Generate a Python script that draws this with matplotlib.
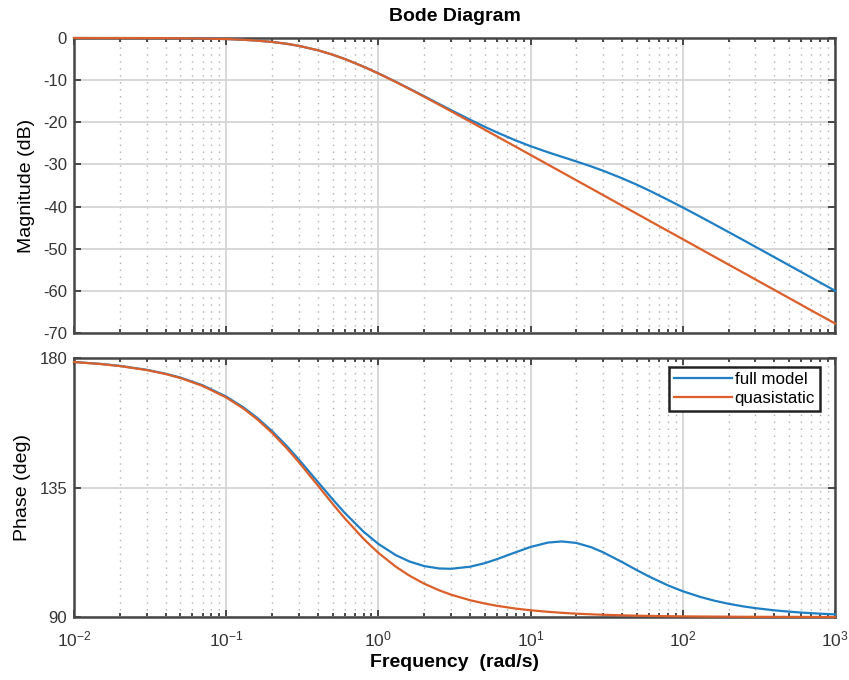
import matplotlib
matplotlib.use('Agg')
import matplotlib.pyplot as plt
from matplotlib.ticker import LogLocator, NullFormatter, FixedLocator
import numpy as np

# 频率点 (rad/s)
freq = [0.01, 0.015, 0.02, 0.03, 0.04, 0.05, 0.07, 0.1, 0.13, 0.16, 0.2, 0.25,
        0.3, 0.4, 0.5, 0.6, 0.8, 1, 1.3, 1.6, 2, 2.5, 3, 4, 5, 6, 8,
        10, 13, 16, 20, 25, 30, 40, 50, 60, 80, 100, 130, 160, 200, 250,
        300, 400, 500, 600, 800, 1000]

# 幅值 (dB)
mag_full = [0.00, -0.01, -0.01, -0.02, -0.04, -0.06, -0.12, -0.25, -0.42, -0.62, -0.93, -1.37,
            -1.86, -2.90, -3.95, -4.96, -6.80, -8.39, -10.38, -12.02, -13.82, -15.64, -17.11, -19.38, -21.07, -22.39, -24.32,
            -25.67, -27.11, -28.17, -29.30, -30.47, -31.50, -33.30, -34.83, -36.17, -38.41, -40.21, -42.39, -44.15, -46.05, -47.96,
            -49.54, -52.02, -53.95, -55.53, -58.03, -59.96]
mag_quasi = [0.00, -0.01, -0.01, -0.02, -0.04, -0.06, -0.12, -0.25, -0.42, -0.62, -0.93, -1.37,
             -1.86, -2.90, -3.96, -4.97, -6.82, -8.42, -10.43, -12.10, -13.94, -15.82, -17.37, -19.83, -21.75, -23.33, -25.82,
             -27.75, -30.03, -31.83, -33.77, -35.70, -37.29, -39.79, -41.72, -43.31, -45.81, -47.74, -50.02, -51.83, -53.77, -55.70,
             -57.29, -59.79, -61.72, -63.31, -65.81, -67.74]

# 相位 (deg)
phase_full = [178.63, 177.95, 177.27, 175.91, 174.55, 173.21, 170.53, 166.60, 162.81, 159.18, 154.62, 149.41,
              144.74, 136.95, 130.91, 126.22, 119.62, 115.39, 111.51, 109.29, 107.70, 106.88, 106.76, 107.48, 108.72, 110.09, 112.53,
              114.35, 115.87, 116.27, 115.74, 114.26, 112.48, 109.07, 106.27, 104.08, 100.98, 98.96, 97.00, 95.72, 94.60, 93.69,
              93.09, 92.32, 91.86, 91.55, 91.16, 90.93]
phase_quasi = [178.60, 177.90, 177.21, 175.82, 174.43, 173.05, 170.31, 166.29, 162.41, 158.68, 154.00, 148.63,
               143.81, 135.71, 129.35, 124.35, 117.14, 112.29, 107.50, 104.37, 101.58, 99.31, 97.78, 95.85, 94.69, 93.91, 92.93,
               92.35, 91.81, 91.47, 91.17, 90.94, 90.78, 90.59, 90.47, 90.39, 90.29, 90.23, 90.18, 90.15, 90.12, 90.09,
               90.08, 90.06, 90.05, 90.04, 90.03, 90.02]

mag_ticks = [-70, -60, -50, -40, -30, -20, -10, 0]
phase_ticks = [90, 135, 180]
labels = ['full model', 'quasistatic']

plt.rcParams['font.family'] = ['Liberation Sans', 'DejaVu Sans']
plt.rcParams['mathtext.fontset'] = 'custom'
plt.rcParams['mathtext.rm'] = 'Liberation Sans'
plt.rcParams['mathtext.default'] = 'regular'
plt.rcParams['axes.unicode_minus'] = False

c_full = '#1f7fc4'
c_quasi = '#dc5f2a'

fig = plt.figure(figsize=(8.49, 6.8), dpi=100)
ax1 = fig.add_axes([0.0872, 0.5103, 0.8963, 0.4338])
ax2 = fig.add_axes([0.0872, 0.0926, 0.8963, 0.3809])


def style_axes(ax):
    ax.set_xscale('log')
    ax.set_xlim(1e-2, 1e3)
    ax.xaxis.set_major_locator(LogLocator(base=10, numticks=10))
    ax.xaxis.set_minor_locator(LogLocator(base=10, subs=np.arange(2, 10), numticks=100))
    ax.xaxis.set_minor_formatter(NullFormatter())
    ax.grid(True, which='major', color='#d4d4d4', lw=1.3, ls='-')
    ax.grid(True, which='minor', axis='x', color='#b0b0b0', lw=1.0, ls=(0, (1, 4)))
    ax.set_axisbelow(True)
    ax.tick_params(which='both', direction='in', top=True, right=True,
                   color='#3a3a3a', labelcolor='#333333', labelsize=12, width=1.3)
    ax.tick_params(which='major', length=5, pad=5)
    ax.tick_params(which='minor', length=3)
    for s in ax.spines.values():
        s.set_color('#474747')
        s.set_linewidth(1.8)


# 幅频图
style_axes(ax1)
ax1.plot(freq, mag_full, color=c_full, lw=1.6, zorder=3, clip_on=False)
ax1.plot(freq, mag_quasi, color=c_quasi, lw=1.6, zorder=3, clip_on=False)
ax1.set_ylim(-70, 0)
ax1.yaxis.set_major_locator(FixedLocator(mag_ticks))
ax1.tick_params(labelbottom=False)
ax1.set_ylabel('Magnitude (dB)', fontsize=14, labelpad=6)
ax1.set_title('Bode Diagram', fontsize=14, fontweight='bold', pad=12)

# 相频图
style_axes(ax2)
ax2.plot(freq, phase_full, color=c_full, lw=1.6, zorder=3, clip_on=False, label=labels[0])
ax2.plot(freq, phase_quasi, color=c_quasi, lw=1.6, zorder=3, clip_on=False, label=labels[1])
ax2.set_ylim(90, 180)
ax2.yaxis.set_major_locator(FixedLocator(phase_ticks))
ax2.tick_params(axis='x', which='major', pad=9, labelsize=12.5)
ax2.set_ylabel('Phase (deg)', fontsize=14, labelpad=6)
ax2.set_xlabel('Frequency  (rad/s)', fontsize=14, fontweight='bold', labelpad=3)

leg = ax2.legend(loc='upper right', bbox_to_anchor=(0.9803, 0.965), fontsize=12.2,
                 frameon=True, fancybox=False, edgecolor='#222222', framealpha=1,
                 handlelength=3.4, handletextpad=0.15, borderpad=0.3,
                 labelspacing=0.2, borderaxespad=0)
leg.get_frame().set_linewidth(1.8)

fig.savefig('out.png', dpi=100, facecolor='white')
